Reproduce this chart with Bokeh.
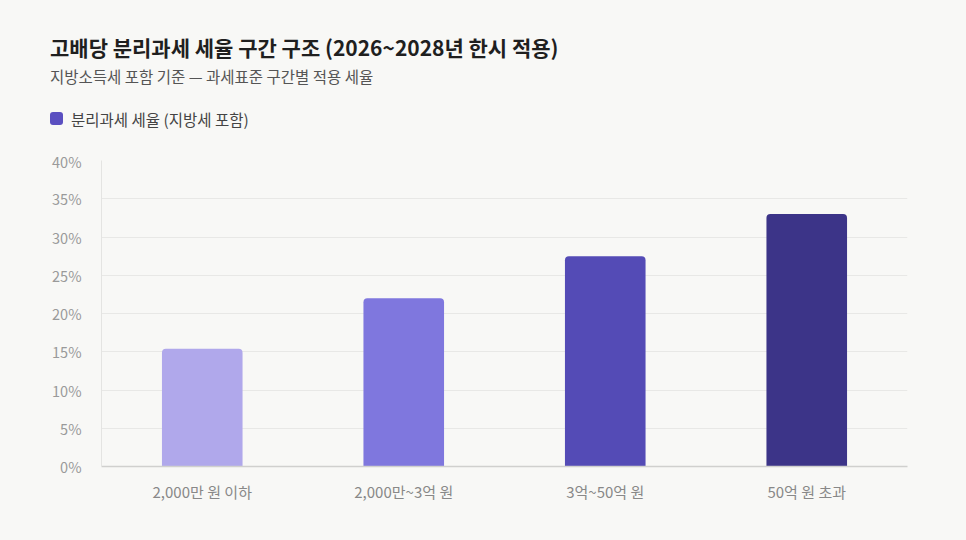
from bokeh.plotting import figure
from bokeh.models import Div, FixedTicker, PrintfTickFormatter, ColumnDataSource
from bokeh.layouts import column
from bokeh.embed import file_html
from bokeh.resources import INLINE

# data
categories = ["2,000만 원 이하", "2,000만~3억 원", "3억~50억 원", "50억 원 초과"]
rates = [15.4, 22.0, 27.5, 33.0]
bar_colors = ["#b0a8eb", "#7f77de", "#544bb6", "#3c3488"]
y_ticks = [0, 5, 10, 15, 20, 25, 30, 35, 40]

title_text = "고배당 분리과세 세율 구간 구조 (2026~2028년 한시 적용)"
subtitle_text = "지방소득세 포함 기준 — 과세표준 구간별 적용 세율"
legend_text = "분리과세 세율 (지방세 포함)"

FONT = "Noto Sans CJK KR"
BG = "#f8f8f6"

# header: title, subtitle and legend
header_html = f"""
<div style="position:relative;width:966px;height:150px;background:{BG};font-family:'{FONT}';">
  <div style="position:absolute;left:50px;top:34px;line-height:26px;font-size:21px;font-weight:bold;color:#1f1f1f;white-space:nowrap;">{title_text}</div>
  <div style="position:absolute;left:50px;top:65px;line-height:22px;font-size:15.5px;color:#555555;white-space:nowrap;">{subtitle_text}</div>
  <div style="position:absolute;left:50px;top:112px;width:13px;height:13px;border-radius:3px;background:#5a4fc0;"></div>
  <div style="position:absolute;left:71px;top:108px;line-height:22px;font-size:15.5px;color:#444444;white-space:nowrap;">{legend_text}</div>
</div>
"""
header = Div(text=header_html, width=966, height=150, margin=0, styles={"background": BG})

src = ColumnDataSource(data=dict(cat=categories, rate=rates, color=bar_colors))

p = figure(x_range=categories, y_range=(0, 40), width=966, height=390,
           output_backend="svg", toolbar_location=None, margin=0,
           min_border_left=101, min_border_right=59, min_border_top=10, min_border_bottom=74)
p.x_range.range_padding = 0
p.background_fill_color = BG
p.border_fill_color = BG
p.outline_line_color = None

p.vbar(x="cat", top="rate", width=0.4, color="color", line_color=None,
       border_radius=(4, 4, 0, 0), source=src)

# axes
p.yaxis.ticker = FixedTicker(ticks=y_ticks)
p.yaxis.formatter = PrintfTickFormatter(format="%d%%")
p.yaxis.axis_line_color = "#e4e4e2"
p.yaxis.major_tick_line_color = None
p.yaxis.minor_tick_line_color = None
p.yaxis.major_label_text_font = FONT
p.yaxis.major_label_text_font_size = "14.5px"
p.yaxis.major_label_text_color = "#9a9a9a"
p.yaxis.major_label_standoff = 14

p.xaxis.axis_line_color = "#d0d0ce"
p.xaxis.axis_line_width = 1.5
p.xaxis.major_tick_line_color = None
p.xaxis.major_label_text_font = FONT
p.xaxis.major_label_text_font_size = "15px"
p.xaxis.major_label_text_color = "#888888"
p.xaxis.major_label_standoff = 8

p.xgrid.grid_line_color = None
p.ygrid.grid_line_color = "#e8e8e6"

layout = column(header, p, spacing=0, margin=0, styles={"background": BG})

open("out.html", "w").write(file_html(layout, INLINE))
